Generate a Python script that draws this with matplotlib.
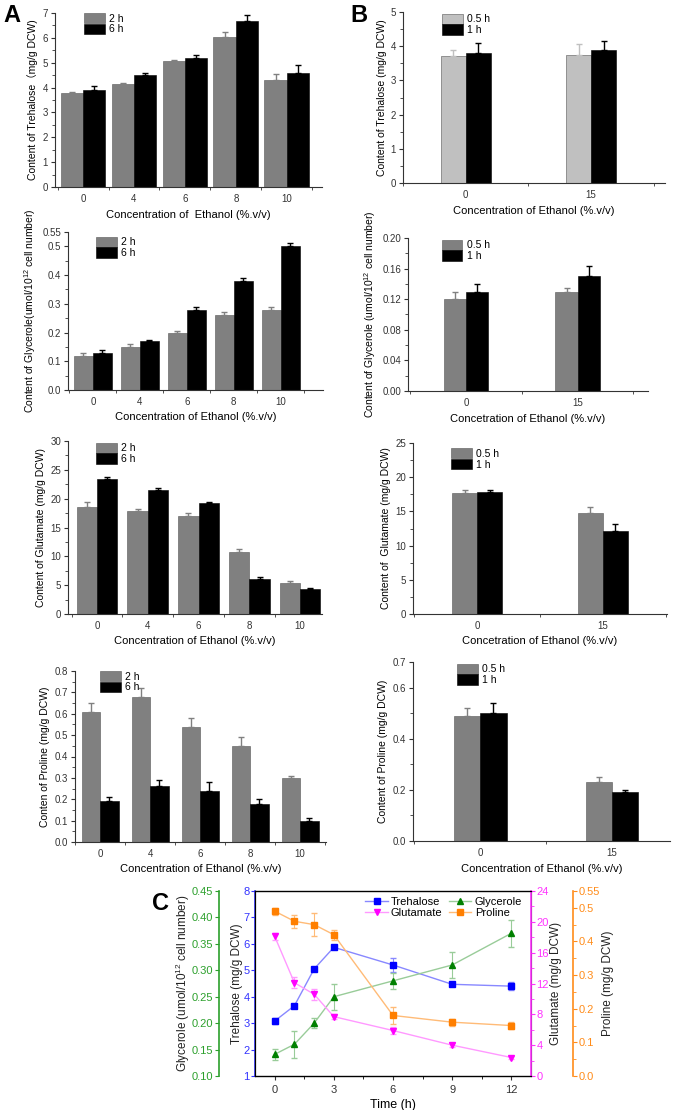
#Metabolite contents under ethanol stress
import numpy as np
import matplotlib.pyplot as plt
from matplotlib.ticker import MultipleLocator

plt.rcParams['font.family'] = ['Liberation Sans', 'Noto Sans CJK SC']
plt.rcParams['mathtext.fontset'] = 'custom'
plt.rcParams['mathtext.rm'] = 'Liberation Sans'
plt.rcParams['mathtext.it'] = 'Liberation Sans'
plt.rcParams['font.size'] = 7

W, H = 685, 1110

# panel A: 0-10 % ethanol, 2 h / 6 h
conc_a = ["0", "4", "6", "8", "10"]
tre_a_2h = [3.80, 4.15, 5.05, 6.05, 4.32]
tre_a_2h_err = [0.03, 0.05, 0.05, 0.20, 0.22]
tre_a_6h = [3.90, 4.50, 5.20, 6.68, 4.60]
tre_a_6h_err = [0.15, 0.07, 0.10, 0.22, 0.30]
gly_a_2h = [0.12, 0.15, 0.20, 0.26, 0.28]
gly_a_2h_err = [0.01, 0.01, 0.006, 0.01, 0.01]
gly_a_6h = [0.13, 0.17, 0.28, 0.38, 0.50]
gly_a_6h_err = [0.01, 0.005, 0.008, 0.01, 0.01]
glu_a_2h = [18.6, 17.8, 17.0, 10.8, 5.3]
glu_a_2h_err = [0.8, 0.4, 0.6, 0.4, 0.4]
glu_a_6h = [23.4, 21.5, 19.2, 6.0, 4.3]
glu_a_6h_err = [0.3, 0.4, 0.3, 0.5, 0.2]
pro_a_2h = [0.61, 0.68, 0.54, 0.45, 0.30]
pro_a_2h_err = [0.04, 0.04, 0.04, 0.04, 0.01]
pro_a_6h = [0.19, 0.26, 0.24, 0.18, 0.10]
pro_a_6h_err = [0.02, 0.03, 0.04, 0.02, 0.01]

# panel B: 0 / 15 % ethanol, 0.5 h / 1 h
conc_b = ["0", "15"]
tre_b_05h = [3.70, 3.75]
tre_b_05h_err = [0.20, 0.30]
tre_b_1h = [3.80, 3.90]
tre_b_1h_err = [0.28, 0.25]
gly_b_05h = [0.12, 0.13]
gly_b_05h_err = [0.01, 0.004]
gly_b_1h = [0.13, 0.15]
gly_b_1h_err = [0.01, 0.013]
glu_b_05h = [17.7, 14.8]
glu_b_05h_err = [0.4, 0.8]
glu_b_1h = [17.8, 12.2]
glu_b_1h_err = [0.4, 0.9]
pro_b_05h = [0.49, 0.23]
pro_b_05h_err = [0.03, 0.02]
pro_b_1h = [0.50, 0.19]
pro_b_1h_err = [0.04, 0.01]

# panel C: time course
time_h = [0, 1, 2, 3, 6, 9, 12]
tre_c = [3.08, 3.66, 5.05, 5.87, 5.20, 4.47, 4.40]
tre_c_err = [0.10, 0.05, 0.05, 0.08, 0.25, 0.05, 0.15]
gly_c = [0.141, 0.16, 0.20, 0.25, 0.28, 0.31, 0.37]
gly_c_err = [0.01, 0.025, 0.01, 0.025, 0.015, 0.025, 0.025]
glu_c = [18.1, 12.1, 10.6, 7.7, 5.9, 4.0, 2.4]
glu_c_err = [0.5, 0.7, 0.7, 0.3, 0.5, 0.3, 0.2]
pro_c = [0.49, 0.46, 0.45, 0.42, 0.18, 0.16, 0.15]
pro_c_err = [0.01, 0.02, 0.035, 0.015, 0.025, 0.01, 0.01]


def px_axes(fig, left, top, right, bottom):
    return fig.add_axes([left / W, 1 - bottom / H, (right - left) / W, (bottom - top) / H])


def bar_panel(fig, box, cats, v1, e1, v2, e2, labels, c1, width, xlim, ylim,
              yticks, ytlabels, yminor, ylabel, xlabel, leg_xy):
    ax = px_axes(fig, *box)
    x = np.arange(len(cats))
    z = np.zeros(len(cats))
    ax.bar(x - width / 2, v1, width, color=c1, edgecolor="#555555", linewidth=0.4, label=labels[0])
    ax.bar(x + width / 2, v2, width, color="black", edgecolor="black", linewidth=0.4, label=labels[1])
    ax.errorbar(x - width / 2, v1, yerr=[z, e1], fmt="none", ecolor=c1, elinewidth=1, capsize=2.5, capthick=1)
    ax.errorbar(x + width / 2, v2, yerr=[z, e2], fmt="none", ecolor="black", elinewidth=1, capsize=2.5, capthick=1)
    ax.set_xlim(xlim)
    ax.set_ylim(ylim)
    ax.set_xticks(x, cats)
    ax.xaxis.set_minor_locator(plt.FixedLocator(np.arange(len(cats) + 1) - 0.5))
    ax.set_yticks(yticks, ytlabels)
    ax.yaxis.set_minor_locator(MultipleLocator(yminor))
    ax.spines["top"].set_visible(False)
    ax.spines["right"].set_visible(False)
    for s in ("left", "bottom"):
        ax.spines[s].set_linewidth(0.8)
        ax.spines[s].set_color("#333333")
    ax.tick_params(which="major", direction="out", length=3, width=0.8, labelsize=7, colors="#333333", pad=2)
    ax.tick_params(which="minor", direction="out", length=2, width=0.6, colors="#333333")
    ax.tick_params(axis="x", which="major", length=0, pad=5)
    ax.set_ylabel(ylabel, fontsize=7.5, labelpad=3)
    ax.set_xlabel(xlabel, fontsize=8, labelpad=4)
    ax.legend(loc="upper left", bbox_to_anchor=leg_xy, frameon=False, fontsize=7.5,
              handlelength=2.0, handleheight=1.15, labelspacing=0.0, handletextpad=0.4,
              borderpad=0, borderaxespad=0)
    return ax


def panel_c(fig):
    ax = px_axes(fig, 255, 891, 531, 1076)
    blue, green, magenta, orange = "#3333ff", "#2ca02c", "#ff33ff", "#ff8c1a"
    axg = ax.twinx()
    axm = ax.twinx()
    axo = ax.twinx()

    l1 = ax.errorbar(time_h, tre_c, yerr=tre_c_err, color="#8888ff", mfc="#0000ff", mec="#0000ff",
                     marker="s", ms=4.5, lw=1, elinewidth=0.8, capsize=2)
    l2 = axg.errorbar(time_h, gly_c, yerr=gly_c_err, color="#99cc99", mfc="#008000", mec="#008000",
                      marker="^", ms=5, lw=1, elinewidth=0.8, capsize=2)
    l3 = axm.errorbar(time_h, glu_c, yerr=glu_c_err, color="#ff99ff", mfc="#ff00ff", mec="#ff00ff",
                      marker="v", ms=5, lw=1, elinewidth=0.8, capsize=2)
    l4 = axo.errorbar(time_h, pro_c, yerr=pro_c_err, color="#ffbb77", mfc="#ff7f00", mec="#ff7f00",
                      marker="s", ms=4.5, lw=1, elinewidth=0.8, capsize=2)

    ax.set_xlim(-1, 13)
    ax.set_xticks([0, 3, 6, 9, 12])
    ax.xaxis.set_minor_locator(MultipleLocator(1.5))
    ax.set_xlabel("Time (h)", fontsize=9, labelpad=3)
    ax.set_ylim(1, 8)
    ax.set_yticks(range(1, 9))
    ax.set_ylabel("Trehalose (mg/g DCW)", fontsize=8.5, labelpad=0)
    ax.spines["left"].set_color(blue)
    ax.spines["left"].set_linewidth(1.2)
    ax.spines["top"].set_color("#555555")
    ax.spines["bottom"].set_color("#555555")
    ax.tick_params(axis="y", colors=blue, labelsize=8, direction="out", length=3, pad=1)
    ax.tick_params(axis="x", labelsize=8, direction="out", length=3, colors="#333333")
    ax.tick_params(axis="x", which="minor", direction="out", length=2)

    axg.spines["left"].set_position(("outward", 26))
    axg.spines["left"].set_visible(True)
    axg.spines["left"].set_color(green)
    axg.spines["left"].set_linewidth(1.2)
    axg.spines["right"].set_visible(False)
    axg.yaxis.set_ticks_position("left")
    axg.yaxis.set_label_position("left")
    axg.set_ylim(0.10, 0.45)
    axg.set_yticks(np.arange(0.10, 0.451, 0.05))
    axg.yaxis.set_major_formatter(plt.FormatStrFormatter("%.2f"))
    axg.tick_params(axis="y", colors=green, labelsize=8, direction="out", length=3, pad=1)
    axg.set_ylabel("Glycerole (umol/10$^{12}$ cell number)", fontsize=8.5, labelpad=0)

    axm.set_ylim(0, 24)
    axm.set_yticks(range(0, 25, 4))
    axm.yaxis.set_minor_locator(MultipleLocator(2))
    axm.spines["right"].set_color(magenta)
    axm.spines["right"].set_linewidth(1.2)
    axm.tick_params(axis="y", which="both", colors=magenta, labelsize=8, direction="out", length=3, pad=1)
    axm.tick_params(axis="y", which="minor", length=2)
    axm.set_ylabel("Glutamate (mg/g DCW)", fontsize=8.5, labelpad=1)

    axo.spines["right"].set_position(("outward", 30))
    axo.spines["right"].set_color(orange)
    axo.spines["right"].set_linewidth(1.2)
    axo.set_ylim(0, 0.55)
    oticks = [0, 0.1, 0.2, 0.3, 0.4, 0.5, 0.55]
    axo.set_yticks(oticks, ["0.0", "0.1", "0.2", "0.3", "0.4", "0.5", "0.55"])
    axo.yaxis.set_minor_locator(MultipleLocator(0.05))
    axo.tick_params(axis="y", which="both", colors=orange, labelsize=8, direction="out", length=3, pad=1)
    axo.tick_params(axis="y", which="minor", length=2)
    axo.set_ylabel("Proline (mg/g DCW)", fontsize=8.5, labelpad=2)

    for a in (ax, axg, axm, axo):
        a.yaxis.label.set_color("#222222")
    # legend shows line + marker only, without the error bar glyph
    handles = [l1[0], l3[0], l2[0], l4[0]]
    axo.legend(handles, ["Trehalose", "Glutamate", "Glycerole", "Proline"],
               ncol=2, loc="upper left", bbox_to_anchor=(0.40, 0.97), frameon=False,
               fontsize=8, handlelength=2.0, columnspacing=0.6, labelspacing=0.15,
               handletextpad=0.3, borderpad=0, borderaxespad=0)


def main():
    fig = plt.figure(figsize=(W / 100, H / 100), dpi=100)
    xl1 = "Concentration of  Ethanol (%.v/v)"
    xl = "Concentration of Ethanol (%.v/v)"
    xl_typo = "Concetration of Ethanol (%.v/v)"
    gray, light = "#808080", "#c0c0c0"

    t_tre_a = [0, 1, 2, 3, 4, 5, 6, 7]
    t_tre_b = [0, 1, 2, 3, 4, 5]
    t_gly_a = [0, 0.1, 0.2, 0.3, 0.4, 0.5, 0.55]
    t_gly_b = [0, 0.04, 0.08, 0.12, 0.16, 0.20]
    t_glu_a = [0, 5, 10, 15, 20, 25, 30]
    t_glu_b = [0, 5, 10, 15, 20, 25]
    t_pro_a = [0, 0.1, 0.2, 0.3, 0.4, 0.5, 0.6, 0.7, 0.8]
    t_pro_b = [0, 0.2, 0.4, 0.6, 0.7]

    bar_panel(fig, (55, 13, 322, 187), conc_a, tre_a_2h, tre_a_2h_err, tre_a_6h, tre_a_6h_err,
              ["2 h", "6 h"], gray, 0.44, (-0.55, 4.69), (0, 7),
              t_tre_a, [str(t) for t in t_tre_a], 0.5,
              "Content of Trehalose（mg/g DCW)", xl1, (0.11, 1.0))
    bar_panel(fig, (403, 12, 665, 183), conc_b, tre_b_05h, tre_b_05h_err, tre_b_1h, tre_b_1h_err,
              ["0.5 h", "1 h"], light, 0.2, (-0.5, 1.59), (0, 5),
              t_tre_b, [str(t) for t in t_tre_b], 0.5,
              "Content of Trehalose (mg/g DCW)", xl, (0.15, 0.99))

    bar_panel(fig, (68, 232, 323, 390), conc_a, gly_a_2h, gly_a_2h_err, gly_a_6h, gly_a_6h_err,
              ["2 h", "6 h"], gray, 0.4, (-0.53, 4.9), (0, 0.55),
              t_gly_a, ["0.0", "0.1", "0.2", "0.3", "0.4", "0.5", "0.55"], 0.05,
              "Content of Glycerole(umol/10$^{12}$ cell number)", xl, (0.11, 0.97))
    bar_panel(fig, (408, 238, 648, 391), conc_b, gly_b_05h, gly_b_05h_err, gly_b_1h, gly_b_1h_err,
              ["0.5 h", "1 h"], gray, 0.2, (-0.52, 1.63), (0, 0.20),
              t_gly_b, ["%.2f" % t for t in t_gly_b], 0.02,
              "Content of Glycerole (umol/10$^{12}$ cell number)", xl_typo, (0.14, 0.99))

    bar_panel(fig, (68, 441, 322, 614), conc_a, glu_a_2h, glu_a_2h_err, glu_a_6h, glu_a_6h_err,
              ["2 h", "6 h"], gray, 0.4, (-0.57, 4.43), (0, 30),
              t_glu_a, [str(t) for t in t_glu_a], 2.5,
              "Content of Glutamate (mg/g DCW)", xl, (0.11, 0.99))
    bar_panel(fig, (413, 443, 667, 614), conc_b, glu_b_05h, glu_b_05h_err, glu_b_1h, glu_b_1h_err,
              ["0.5 h", "1 h"], gray, 0.2, (-0.51, 1.51), (0, 25),
              t_glu_b, [str(t) for t in t_glu_b], 2.5,
              "Content of  Glutamate (mg/g DCW)", xl_typo, (0.15, 0.97))

    bar_panel(fig, (75, 671, 326, 842), conc_a, pro_a_2h, pro_a_2h_err, pro_a_6h, pro_a_6h_err,
              ["2 h", "6 h"], gray, 0.37, (-0.5, 4.52), (0, 0.8),
              t_pro_a, ["%.1f" % t for t in t_pro_a], 0.05,
              "Conten of Proline (mg/g DCW)", xl, (0.10, 1.0))
    bar_panel(fig, (413, 662, 670, 841), conc_b, pro_b_05h, pro_b_05h_err, pro_b_1h, pro_b_1h_err,
              ["0.5 h", "1 h"], gray, 0.2, (-0.51, 1.44), (0, 0.7),
              t_pro_b, ["%.1f" % t for t in t_pro_b], 0.1,
              "Content of Proline (mg/g DCW)", xl, (0.17, 0.99))

    panel_c(fig)

    fig.text(3 / W, 1 - 16 / H, "A", fontsize=17, fontweight="bold", va="center", ha="left")
    fig.text(350 / W, 1 - 16 / H, "B", fontsize=17, fontweight="bold", va="center", ha="left")
    fig.text(152 / W, 1 - 903 / H, "C", fontsize=17, fontweight="bold", va="center", ha="left")

    fig.savefig("out.png", dpi=100)


if __name__ == "__main__":
    main()
